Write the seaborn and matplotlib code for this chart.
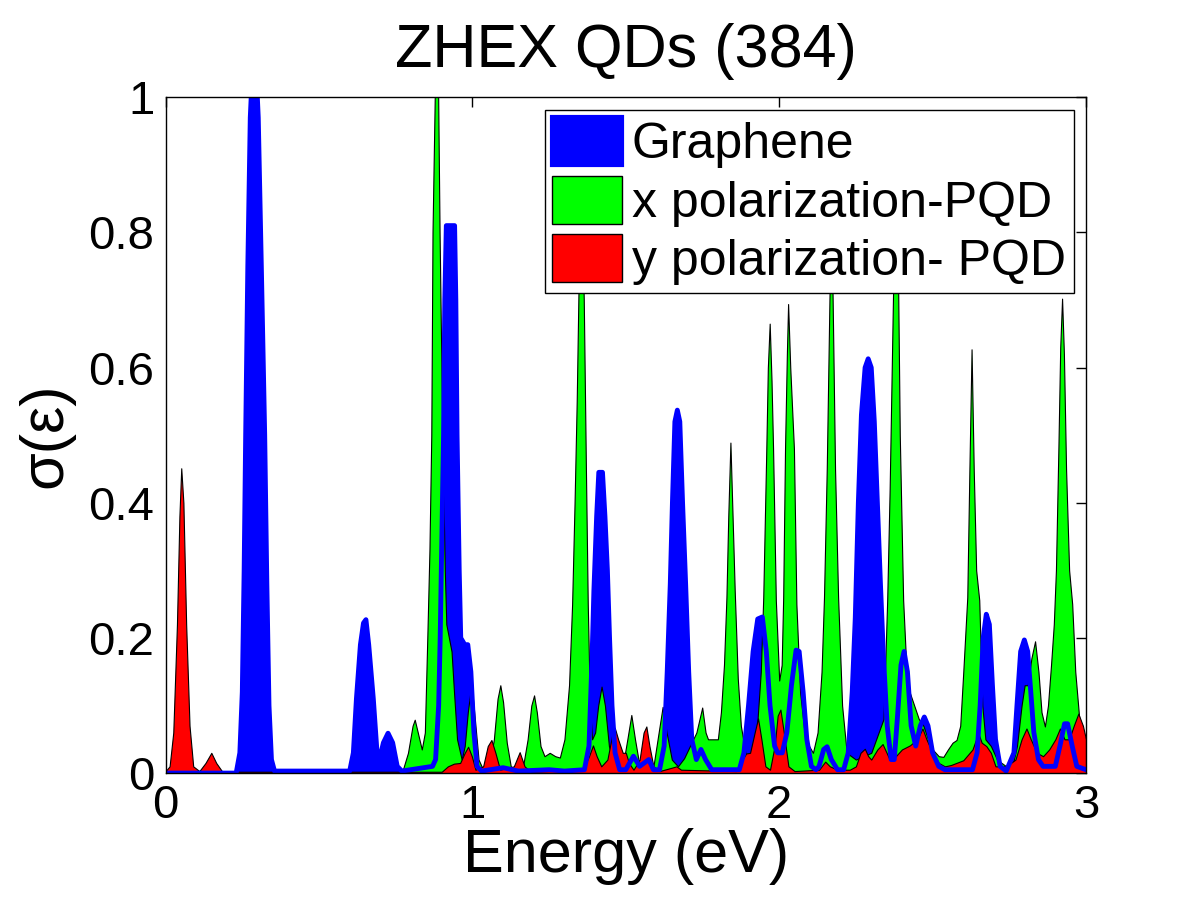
import seaborn as sns
import matplotlib
matplotlib.use('Agg')
import matplotlib.pyplot as plt
from matplotlib.patches import Patch
import pandas as pd

# Graphene (blue) - energy (eV) and sigma
graphene_e = [0.0, 0.20, 0.23, 0.242, 0.25, 0.256, 0.261, 0.268, 0.276, 0.289, 0.302, 0.312, 0.323, 0.33, 0.337,
              0.345, 0.355,
              0.60, 0.612, 0.622, 0.635, 0.645, 0.653, 0.662, 0.677, 0.690, 0.698, 0.710, 0.725, 0.740, 0.755, 0.77,
              0.87, 0.88, 0.89, 0.895, 0.906, 0.91, 0.915, 0.942, 0.946, 0.95, 0.957, 0.962, 0.975, 0.985, 0.995,
              1.005, 1.015, 1.03,
              1.10, 1.15, 1.25, 1.30, 1.365, 1.38, 1.39, 1.396, 1.405, 1.412, 1.424, 1.432, 1.44, 1.447, 1.455, 1.465,
              1.48, 1.50, 1.525, 1.545, 1.575, 1.59, 1.61, 1.625, 1.635, 1.645, 1.652, 1.66, 1.668, 1.676, 1.685,
              1.695, 1.705, 1.715, 1.73, 1.745, 1.76, 1.78,
              1.87, 1.885, 1.90, 1.915, 1.93, 1.945, 1.958, 1.97, 1.985, 1.995,
              2.01, 2.025, 2.04, 2.055, 2.065, 2.078, 2.09, 2.105, 2.12, 2.13, 2.145, 2.156, 2.17, 2.19,
              2.21, 2.225, 2.238, 2.248, 2.258, 2.268, 2.28, 2.29, 2.30, 2.31, 2.32, 2.33, 2.34, 2.352, 2.365, 2.375,
              2.385, 2.397, 2.407, 2.418, 2.43, 2.445, 2.46, 2.473, 2.485, 2.50, 2.52, 2.54,
              2.63, 2.645, 2.655, 2.665, 2.675, 2.685, 2.695, 2.705, 2.72, 2.74,
              2.765, 2.775, 2.787, 2.799, 2.81, 2.82, 2.83, 2.845, 2.86, 2.88,
              2.90, 2.915, 2.93, 2.94, 2.955, 2.97, 3.0]
graphene_s = [0.0, 0.0, 0.0, 0.03, 0.12, 0.30, 0.50, 0.75, 0.97, 1.1, 0.97, 0.75, 0.50, 0.28, 0.10,
              0.02, 0.003,
              0.003, 0.03, 0.11, 0.19, 0.222, 0.227, 0.19, 0.11, 0.025, 0.022, 0.045, 0.059, 0.045, 0.01, 0.003,
              0.01, 0.02, 0.10, 0.20, 0.50, 0.70, 0.81, 0.81, 0.70, 0.50, 0.30, 0.20, 0.19, 0.19, 0.15,
              0.06, 0.01, 0.003,
              0.008, 0.003, 0.005, 0.003, 0.005, 0.04, 0.17, 0.27, 0.38, 0.445, 0.445, 0.38, 0.30, 0.20, 0.10, 0.03,
              0.005, 0.005, 0.025, 0.01, 0.02, 0.005, 0.005, 0.04, 0.15, 0.28, 0.40, 0.52, 0.537, 0.52, 0.40,
              0.28, 0.15, 0.05, 0.02, 0.035, 0.02, 0.005,
              0.005, 0.03, 0.10, 0.18, 0.228, 0.231, 0.18, 0.10, 0.04, 0.03,
              0.03, 0.06, 0.13, 0.182, 0.18, 0.12, 0.05, 0.01, 0.005, 0.01, 0.035, 0.039, 0.02, 0.005,
              0.005, 0.03, 0.12, 0.23, 0.40, 0.53, 0.60, 0.613, 0.60, 0.52, 0.40, 0.28, 0.17, 0.07, 0.02, 0.02,
              0.08, 0.16, 0.18, 0.15, 0.07, 0.04, 0.07, 0.083, 0.07, 0.03, 0.01, 0.005,
              0.005, 0.03, 0.10, 0.20, 0.235, 0.22, 0.13, 0.05, 0.01, 0.003,
              0.03, 0.10, 0.18, 0.197, 0.18, 0.12, 0.06, 0.02, 0.01, 0.01,
              0.01, 0.04, 0.073, 0.073, 0.04, 0.01, 0.005]

# x polarization-PQD (green)
xpol_e = [0.0, 0.77, 0.79, 0.805, 0.812, 0.822, 0.835, 0.845, 0.853, 0.86, 0.866, 0.870, 0.878, 0.888, 0.893,
          0.902, 0.91, 0.915, 0.921, 0.932, 0.94, 0.95, 0.965, 0.975, 0.985, 0.997, 1.008, 1.02, 1.035,
          1.055, 1.07, 1.082, 1.091, 1.10, 1.112, 1.125, 1.14,
          1.165, 1.18, 1.192, 1.201, 1.21, 1.222, 1.235, 1.252, 1.27, 1.285,
          1.30, 1.315, 1.325, 1.333, 1.34, 1.346, 1.352, 1.358, 1.363, 1.370, 1.376, 1.383, 1.39, 1.40, 1.41,
          1.421, 1.432, 1.445, 1.46, 1.49, 1.505, 1.518, 1.53, 1.545,
          1.59, 1.607, 1.62, 1.633, 1.65, 1.67, 1.69, 1.73, 1.749, 1.76, 1.768, 1.80,
          1.81, 1.82, 1.828, 1.834, 1.841, 1.848, 1.855, 1.865, 1.875, 1.89, 1.905,
          1.925, 1.94, 1.948, 1.958, 1.963, 1.969, 1.975, 1.98, 1.989, 2.0,
          2.008, 2.013, 2.019, 2.025, 2.029, 2.036, 2.048, 2.056, 2.068, 2.085, 2.11,
          2.125, 2.138, 2.146, 2.155, 2.164, 2.168, 2.174, 2.182, 2.192, 2.205, 2.22, 2.25, 2.30,
          2.34, 2.352, 2.36, 2.371, 2.38, 2.388, 2.393, 2.404, 2.415, 2.425, 2.44, 2.455, 2.47, 2.485,
          2.50, 2.52, 2.535, 2.55, 2.565, 2.578,
          2.59, 2.60, 2.613, 2.62, 2.627, 2.634, 2.642, 2.652, 2.662, 2.672, 2.69, 2.71, 2.74, 2.76,
          2.775, 2.79, 2.80, 2.81, 2.822, 2.834, 2.845, 2.855, 2.866,
          2.876, 2.886, 2.895, 2.902, 2.91, 2.916, 2.922, 2.928, 2.935, 2.945, 2.955, 2.965, 2.98, 3.0]
xpol_s = [0.0, 0.0, 0.03, 0.07, 0.079, 0.06, 0.035, 0.06, 0.20, 0.33, 0.50, 0.80, 1.02, 1.02, 0.80,
          0.50, 0.30, 0.22, 0.206, 0.18, 0.12, 0.05, 0.02, 0.04, 0.09, 0.133, 0.08, 0.02, 0.005,
          0.01, 0.05, 0.11, 0.13, 0.105, 0.045, 0.01, 0.005,
          0.01, 0.05, 0.10, 0.115, 0.09, 0.04, 0.025, 0.03, 0.025, 0.023,
          0.05, 0.13, 0.25, 0.40, 0.55, 0.72, 0.85, 0.80, 0.70, 0.45, 0.25, 0.10, 0.05, 0.06, 0.10,
          0.128, 0.10, 0.04, 0.015, 0.01, 0.05, 0.086, 0.05, 0.01,
          0.01, 0.06, 0.098, 0.06, 0.02, 0.01, 0.022, 0.06, 0.097, 0.06, 0.05, 0.05,
          0.09, 0.16, 0.26, 0.38, 0.489, 0.38, 0.27, 0.14, 0.07, 0.03, 0.02,
          0.05, 0.15, 0.26, 0.48, 0.60, 0.665, 0.58, 0.48, 0.256, 0.137,
          0.16, 0.26, 0.48, 0.62, 0.694, 0.60, 0.48, 0.25, 0.12, 0.05, 0.03,
          0.06, 0.15, 0.26, 0.45, 0.707, 0.80, 0.707, 0.45, 0.26, 0.10, 0.03, 0.02, 0.03,
          0.08, 0.256, 0.42, 0.707, 0.86, 0.707, 0.50, 0.256, 0.15, 0.12, 0.10, 0.08, 0.07, 0.05,
          0.035, 0.025, 0.024, 0.035, 0.045, 0.049,
          0.07, 0.15, 0.26, 0.45, 0.627, 0.45, 0.30, 0.256, 0.10, 0.05, 0.04, 0.02, 0.01, 0.01,
          0.04, 0.10, 0.13, 0.13, 0.17, 0.195, 0.15, 0.09, 0.069,
          0.10, 0.16, 0.22, 0.30, 0.48, 0.63, 0.702, 0.62, 0.45, 0.30, 0.25, 0.15, 0.07, 0.035]

# y polarization-PQD (red)
ypol_e = [0.0, 0.013, 0.025, 0.037, 0.045, 0.051, 0.058, 0.067, 0.078, 0.09, 0.11, 0.13, 0.149, 0.165, 0.185,
          0.90, 0.92, 0.94, 0.96, 0.975, 0.986, 0.998, 1.01, 1.035, 1.05, 1.062, 1.075, 1.09,
          1.135, 1.154, 1.17, 1.19, 1.36, 1.38, 1.393, 1.405, 1.42, 1.44, 1.455, 1.464, 1.475, 1.49, 1.50,
          1.51, 1.525, 1.545, 1.558, 1.567, 1.577, 1.59, 1.61, 1.65, 1.665, 1.68,
          1.86, 1.88, 1.892, 1.905, 1.92, 1.931, 1.942, 1.955, 1.97, 1.985, 1.995, 2.004, 2.015, 2.03, 2.05,
          2.13, 2.15, 2.165, 2.19, 2.23,
          2.25, 2.265, 2.279, 2.29, 2.30, 2.32, 2.337, 2.35, 2.36, 2.38, 2.40, 2.426, 2.45, 2.467, 2.48,
          2.50, 2.52, 2.54, 2.56, 2.60, 2.63, 2.649, 2.66, 2.675, 2.69, 2.705, 2.74, 2.77, 2.79, 2.806,
          2.82, 2.84, 2.86, 2.88, 2.90, 2.915, 2.93, 2.945, 2.96, 2.975, 2.99, 3.0]
ypol_s = [0.003, 0.01, 0.06, 0.22, 0.38, 0.451, 0.40, 0.22, 0.07, 0.01, 0.003, 0.015, 0.03, 0.015, 0.002,
          0.002, 0.01, 0.014, 0.015, 0.03, 0.039, 0.025, 0.005, 0.01, 0.04, 0.049, 0.03, 0.005,
          0.01, 0.031, 0.01, 0.002, 0.005, 0.025, 0.041, 0.025, 0.01, 0.02, 0.055, 0.067, 0.05, 0.03, 0.03,
          0.015, 0.005, 0.02, 0.06, 0.069, 0.04, 0.01, 0.003, 0.008, 0.01, 0.005,
          0.003, 0.02, 0.029, 0.03, 0.06, 0.081, 0.05, 0.01, 0.005, 0.04, 0.085, 0.094, 0.06, 0.01, 0.003,
          0.005, 0.017, 0.01, 0.005, 0.005,
          0.01, 0.03, 0.036, 0.025, 0.02, 0.035, 0.043, 0.03, 0.02, 0.025, 0.035, 0.041, 0.05, 0.066, 0.05,
          0.03, 0.015, 0.01, 0.012, 0.019, 0.035, 0.059, 0.045, 0.04, 0.03, 0.01, 0.01, 0.02, 0.05, 0.066,
          0.05, 0.03, 0.025, 0.035, 0.05, 0.066, 0.05, 0.05, 0.07, 0.088, 0.07, 0.05]

labels = ['Graphene', 'x polarization-PQD', 'y polarization- PQD']
title = 'ZHEX QDs (384)'
xticks = [0, 1, 2, 3]
yticks = [0, 0.2, 0.4, 0.6, 0.8, 1]

graphene = pd.DataFrame({'Energy': graphene_e, 'sigma': graphene_s})

sns.set_style('white')
plt.rcParams['font.family'] = ['Liberation Sans', 'DejaVu Sans']
plt.rcParams['text.color'] = 'black'
plt.rcParams['axes.labelcolor'] = 'black'
plt.rcParams['xtick.color'] = 'black'
plt.rcParams['ytick.color'] = 'black'

fig = plt.figure(figsize=(12, 9), dpi=100)
ax = fig.add_axes([0.138, 0.141, 0.767, 0.751])

# capas: area azul, verde, roja y encima la linea azul gruesa
ax.fill_between(graphene_e, graphene_s, color='#0000ff', lw=0, zorder=1)
ax.fill_between(xpol_e, xpol_s, facecolor='#00ff00', edgecolor='black', lw=0.8, zorder=2)
ax.fill_between(ypol_e, ypol_s, facecolor='#ff0000', edgecolor='black', lw=0.8, zorder=3)
sns.lineplot(data=graphene, x='Energy', y='sigma', color='#0000ff', lw=3.5,
             sort=False, estimator=None, ax=ax, zorder=4)

ax.set_xlim(0, 3)
ax.set_ylim(0, 1)
ax.set_xticks(xticks)
ax.set_xticklabels([str(t) for t in xticks])
ax.set_yticks(yticks)
ax.set_yticklabels(['0', '0.2', '0.4', '0.6', '0.8', '1'])
ax.tick_params(direction='in', top=True, right=True, length=7, width=1,
               labelsize=34, colors='black', pad=8)
for sp in ax.spines.values():
    sp.set_color('black')
    sp.set_linewidth(1)
    sp.set_zorder(6)

ax.set_title(title, fontsize=44, pad=22, color='black')
ax.set_xlabel('Energy (eV)', fontsize=44, labelpad=0, color='black')
ax.set_ylabel('σ(ε)', fontsize=44, labelpad=10, color='black')

handles = [Patch(facecolor='#0000ff', edgecolor='#0000ff', lw=3, joinstyle='round'),
           Patch(facecolor='#00ff00', edgecolor='black', lw=1),
           Patch(facecolor='#ff0000', edgecolor='black', lw=1)]
leg = ax.legend(handles, labels, loc='upper right', fontsize=36, frameon=True, fancybox=False,
                framealpha=1, edgecolor='black', borderaxespad=0.25, handlelength=1.4,
                handleheight=1.1, handletextpad=0.2, labelspacing=0.15, borderpad=0.15)
leg.get_frame().set_linewidth(1)
leg.set_zorder(10)
for t in leg.get_texts():
    t.set_color('black')

fig.savefig('out.png', dpi=100)
